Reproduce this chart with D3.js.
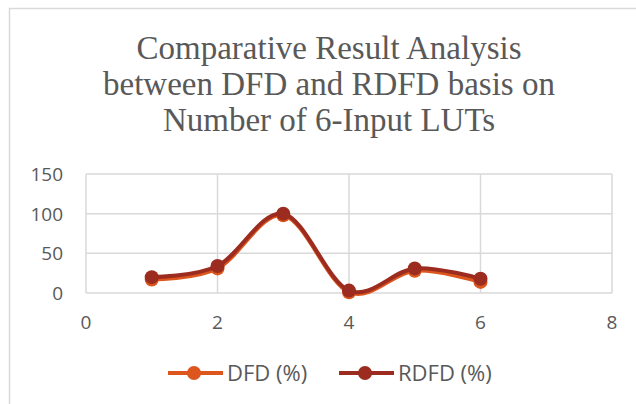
<!DOCTYPE html>
<html>
<head>
<meta charset="utf-8">
<script src="https://cdn.jsdelivr.net/npm/d3@7"></script>
<style>
  body { margin: 0; background: #fff; }
  text { fill: #595959; }
</style>
</head>
<body>
<svg id="chart" width="636" height="404"></svg>
<script>
var titleLines = ["Comparative Result Analysis", "between DFD and RDFD basis on", "Number of 6-Input LUTs"];
var xs = [1, 2, 3, 4, 5, 6];
var dfd = [17, 31, 98, 1, 28, 14];
var rdfd = [20, 34, 100, 3, 31, 18];
var seriesNames = ["DFD (%)", "RDFD (%)"];
var seriesColors = ["#DC561E", "#9C2C1F"];
var xTicks = [0, 2, 4, 6, 8];
var yTicks = [0, 50, 100, 150];

var svg = d3.select("#chart"),
    margin = {top: 174, right: 24, bottom: 111, left: 86},
    width = +svg.attr("width") - margin.left - margin.right,
    height = +svg.attr("height") - margin.top - margin.bottom;

// chart frame
svg.append("path")
    .attr("d", "M9.5,404 V8.5 H636")
    .attr("fill", "none")
    .attr("stroke", "#d9d9d9")
    .attr("stroke-width", 1.5);

// title
svg.append("text")
    .attr("text-anchor", "middle")
    .style("font-family", "Liberation Serif, serif")
    .style("font-size", "33px")
    .selectAll("tspan")
    .data(titleLines)
    .enter().append("tspan")
      .attr("x", 329)
      .attr("y", function(d, i) { return 59 + i * 36; })
      .text(function(d) { return d; });

var x = d3.scaleLinear().domain([0, 8]).range([0, width]),
    y = d3.scaleLinear().domain([0, 150]).range([height, 0]);

var g = svg.append("g")
    .attr("transform", "translate(" + margin.left + "," + margin.top + ")");

// gridlines
g.selectAll(".hgrid")
  .data(yTicks)
  .enter().append("line")
    .attr("x1", 0).attr("x2", width)
    .attr("y1", function(d) { return y(d); })
    .attr("y2", function(d) { return y(d); })
    .attr("stroke", "#d9d9d9")
    .attr("stroke-width", 1.5);

g.selectAll(".vgrid")
  .data(xTicks)
  .enter().append("line")
    .attr("y1", 0).attr("y2", height)
    .attr("x1", function(d) { return x(d); })
    .attr("x2", function(d) { return x(d); })
    .attr("stroke", "#d9d9d9")
    .attr("stroke-width", 1.5);

// tick labels
g.selectAll(".ylab")
  .data(yTicks)
  .enter().append("text")
    .attr("x", -23)
    .attr("y", function(d) { return y(d); })
    .attr("dy", "0.36em")
    .attr("text-anchor", "end")
    .style("font-family", "Open Sans, sans-serif")
    .style("font-size", "19px")
    .text(function(d) { return d; });

g.selectAll(".xlab")
  .data(xTicks)
  .enter().append("text")
    .attr("x", function(d) { return x(d); })
    .attr("y", height + 36)
    .attr("text-anchor", "middle")
    .style("font-family", "Open Sans, sans-serif")
    .style("font-size", "19px")
    .text(function(d) { return d; });

var line = d3.line()
    .x(function(d) { return x(d[0]); })
    .y(function(d) { return y(d[1]); })
    .curve(d3.curveCardinal.tension(0));

var series = [dfd, rdfd].map(function(vals, k) {
  return {name: seriesNames[k], color: seriesColors[k], pts: xs.map(function(v, i) { return [v, vals[i]]; })};
});

series.forEach(function(s) {
  g.append("path")
    .datum(s.pts)
    .attr("d", line)
    .attr("fill", "none")
    .attr("stroke", s.color)
    .attr("stroke-width", 4)
    .attr("stroke-linejoin", "round");
  g.selectAll(null)
    .data(s.pts)
    .enter().append("circle")
      .attr("cx", function(d) { return x(d[0]); })
      .attr("cy", function(d) { return y(d[1]); })
      .attr("r", 7)
      .attr("fill", s.color);
});

// legend
var legX = [168, 339];
var leg = svg.selectAll(".leg")
  .data(series)
  .enter().append("g")
    .attr("transform", function(d, i) { return "translate(" + legX[i] + ",373)"; });
leg.append("line")
  .attr("x1", 0).attr("x2", 55)
  .attr("stroke", function(d) { return d.color; })
  .attr("stroke-width", 4);
leg.append("circle")
  .attr("cx", 26).attr("r", 7)
  .attr("fill", function(d) { return d.color; });
leg.append("text")
  .attr("x", 59)
  .attr("dy", "0.36em")
  .style("font-family", "Open Sans, sans-serif")
  .style("font-size", "22px")
  .text(function(d) { return d.name; });
</script>
</body>
</html>
